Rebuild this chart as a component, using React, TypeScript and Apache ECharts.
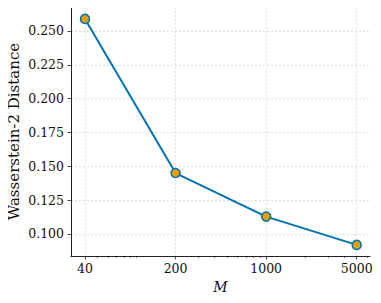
import React, { useEffect, useRef } from "react";
import * as echarts from "echarts";

const mValues = [40, 200, 1000, 5000];
const distValues = [0.2589, 0.145, 0.1128, 0.0919];
const xMajorTicks = [40, 200, 1000, 5000];
const xMinorTicks = [50, 60, 70, 80, 90, 100, 300, 400, 500, 600, 700, 800, 900, 2000, 3000, 4000, 6000];
const yTicks = [0.1, 0.125, 0.15, 0.175, 0.2, 0.225, 0.25];

const FONT = "'DejaVu Serif', serif";

export default function App() {
  const ref = useRef<HTMLDivElement>(null);
  useEffect(() => {
    if (!ref.current) return;
    const chart = echarts.init(ref.current, undefined, { renderer: "svg" });
    const xMin = Math.log10(31.2);
    const xMax = Math.log10(6330);
    const gridLine = { show: true, lineStyle: { color: "#d6d6d6", width: 0.8, type: [2, 2] as any } };
    chart.setOption({
      animation: false,
      backgroundColor: "#ffffff",
      grid: { left: 71, right: 11, top: 7, bottom: 47, containLabel: false, outerBoundsMode: "none" },
      xAxis: [
        {
          type: "value",
          min: xMin,
          max: xMax,
          name: "M",
          nameLocation: "middle",
          nameGap: 24,
          nameMoveOverlap: false,
          nameTextStyle: { fontFamily: FONT, fontSize: 14, fontStyle: "italic", color: "#111" },
          axisLine: { show: true, lineStyle: { color: "#222", width: 1 } },
          axisTick: {
            show: true,
            inside: false,
            length: 3.5,
            lineStyle: { color: "#222", width: 0.8 },
            customValues: xMajorTicks.map((v) => Math.log10(v)),
          },
          axisLabel: {
            show: true,
            fontFamily: FONT,
            fontSize: 12.5,
            color: "#111",
            margin: 6,
            customValues: xMajorTicks.map((v) => Math.log10(v)),
            formatter: (v: number) => String(Math.round(Math.pow(10, v))),
          },
          splitLine: gridLine,
        },
        {
          type: "value",
          min: xMin,
          max: xMax,
          position: "bottom",
          axisLine: { show: false },
          axisTick: {
            show: true,
            inside: false,
            length: 2,
            lineStyle: { color: "#222", width: 0.6 },
            customValues: xMinorTicks.map((v) => Math.log10(v)),
          },
          axisLabel: { show: false },
          splitLine: { show: false },
        },
      ],
      yAxis: {
        type: "value",
        min: 0.0837,
        max: 0.2677,
        name: "Wasserstein-2 Distance",
        nameLocation: "middle",
        nameGap: 50,
        nameMoveOverlap: false,
        nameRotate: 90,
        nameTextStyle: { fontFamily: FONT, fontSize: 15, color: "#111" },
        axisLine: { show: true, lineStyle: { color: "#222", width: 1 } },
        axisTick: {
          show: true,
          inside: false,
          length: 3.5,
          lineStyle: { color: "#222", width: 0.8 },
          customValues: yTicks,
        },
        axisLabel: {
          show: true,
          fontFamily: FONT,
          fontSize: 12.5,
          color: "#111",
          margin: 7,
          customValues: yTicks,
          formatter: (v: number) => v.toFixed(3),
        },
        splitLine: gridLine,
      },
      series: [
        {
          type: "line",
          data: mValues.map((m, i) => [Math.log10(m), distValues[i]]),
          symbol: "circle",
          symbolSize: 9,
          lineStyle: { color: "#0072B2", width: 2 },
          itemStyle: { color: "#E69F00", borderColor: "#0072B2", borderWidth: 1.5 },
          z: 3,
        },
      ],
    });
    return () => chart.dispose();
  }, []);
  return <div ref={ref} style={{ width: 381, height: 303, margin: -8 }} />;
}
